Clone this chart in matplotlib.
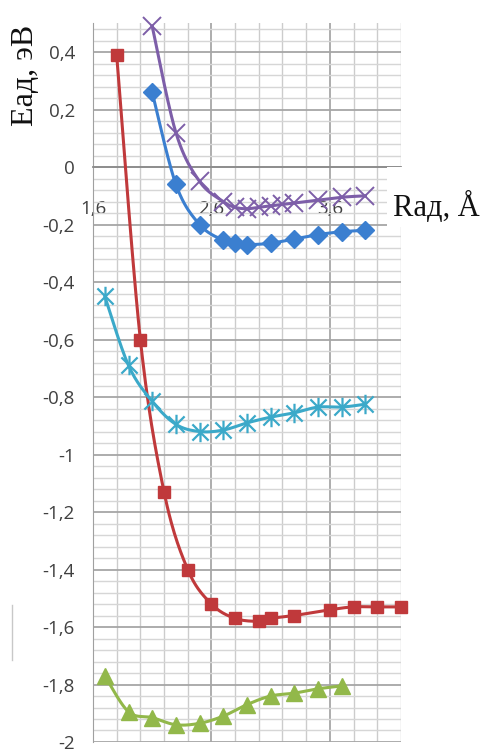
import numpy as np
import matplotlib
matplotlib.use("Agg")
import matplotlib.pyplot as plt
from matplotlib.path import Path
from matplotlib.lines import Line2D
from matplotlib.patches import Rectangle

# ---- data ----
x_purple = [2.1, 2.3, 2.5, 2.7, 2.8, 2.9, 3.0, 3.1, 3.2, 3.3, 3.5, 3.7, 3.9]
y_purple = [0.49, 0.12, -0.05, -0.12, -0.14, -0.145, -0.14, -0.135, -0.13, -0.125, -0.115, -0.105, -0.10]

x_blue = [2.1, 2.3, 2.5, 2.7, 2.8, 2.9, 3.1, 3.3, 3.5, 3.7, 3.9]
y_blue = [0.26, -0.06, -0.20, -0.255, -0.265, -0.27, -0.265, -0.25, -0.235, -0.225, -0.22]

x_red = [1.8, 2.0, 2.2, 2.4, 2.6, 2.8, 3.0, 3.1, 3.3, 3.6, 3.8, 4.0, 4.2]
y_red = [0.39, -0.60, -1.13, -1.40, -1.52, -1.57, -1.58, -1.57, -1.56, -1.54, -1.53, -1.53, -1.53]

x_cyan = [1.7, 1.9, 2.1, 2.3, 2.5, 2.7, 2.9, 3.1, 3.3, 3.5, 3.7, 3.9]
y_cyan = [-0.45, -0.69, -0.815, -0.895, -0.92, -0.915, -0.89, -0.87, -0.855, -0.835, -0.835, -0.825]

x_green = [1.7, 1.9, 2.1, 2.3, 2.5, 2.7, 2.9, 3.1, 3.3, 3.5, 3.7]
y_green = [-1.77, -1.895, -1.915, -1.94, -1.935, -1.91, -1.87, -1.84, -1.83, -1.815, -1.805]

xtick_vals = [1.6, 2.6, 3.6]
xtick_labels = ["1,6", "2,6", "3,6"]
ytick_vals = [0.4, 0.2, 0.0, -0.2, -0.4, -0.6, -0.8, -1.0, -1.2, -1.4, -1.6, -1.8, -2.0]
ytick_labels = ["0,4", "0,2", "0", "-0,2", "-0,4", "-0,6", "-0,8", "-1", "-1,2", "-1,4", "-1,6", "-1,8", "-2"]

plt.rcParams["font.family"] = ["Open Sans", "DejaVu Sans"]


def smooth(x, y, n=24):
    # excel-like smoothed line: cubic bezier through the points
    x = np.asarray(x, float)
    y = np.asarray(y, float)
    px, py = [], []
    for i in range(len(x) - 1):
        i0 = max(i - 1, 0)
        i3 = min(i + 2, len(x) - 1)
        c1x = x[i] + (x[i + 1] - x[i0]) / 6
        c1y = y[i] + (y[i + 1] - y[i0]) / 6
        c2x = x[i + 1] - (x[i3] - x[i]) / 6
        c2y = y[i + 1] - (y[i3] - y[i]) / 6
        t = np.linspace(0, 1, n)
        a, b, c, d = (1 - t) ** 3, 3 * t * (1 - t) ** 2, 3 * t ** 2 * (1 - t), t ** 3
        px.extend(a * x[i] + b * c1x + c * c2x + d * x[i + 1])
        py.extend(a * y[i] + b * c1y + c * c2y + d * y[i + 1])
    return px, py


# excel "star" marker: an x with a vertical bar
star = Path([(-1, -1), (1, 1), (-1, 1), (1, -1), (0, -1.2), (0, 1.2)],
            [Path.MOVETO, Path.LINETO, Path.MOVETO, Path.LINETO, Path.MOVETO, Path.LINETO])

fig = plt.figure(figsize=(4.83, 7.52), dpi=100)
ax = fig.add_axes([0.1925, 0.0133, 0.6375, 0.9557])

for s in ["top", "right"]:
    ax.spines[s].set_visible(False)
ax.spines["left"].set_color("#a0a0a0")
ax.spines["bottom"].set_position(("data", 0))
ax.spines["bottom"].set_color("#8c8c8c")
ax.spines["bottom"].set_linewidth(1.3)

ax.set_xlim(1.6, 4.2)
ax.set_ylim(-2.0, 0.5)

# grid
ax.set_xticks(xtick_vals)
ax.set_xticklabels(xtick_labels)
ax.set_xticks(np.arange(1.6, 4.21, 0.2), minor=True)
ax.set_yticks(ytick_vals)
ax.set_yticklabels(ytick_labels)
ax.set_yticks(np.arange(-2.0, 0.49, 0.04), minor=True)
ax.grid(which="major", axis="y", color="#a6a6a6", lw=1.3)
ax.grid(which="minor", axis="y", color="#d6d6d6", lw=1.0)
ax.grid(which="major", axis="x", color="#a0a0a0", lw=1.2)
ax.grid(which="minor", axis="x", color="#cccccc", lw=1.0)
ax.set_axisbelow(True)

ax.tick_params(which="both", length=0, labelsize=13.5, labelcolor="#404040")
ax.tick_params(axis="x", pad=24)
ax.tick_params(axis="y", pad=13)

# series
series = [
    (x_green, y_green, "#92b84a", dict(marker="^", ms=12)),
    (x_red, y_red, "#c0393b", dict(marker="s", ms=9)),
    (x_cyan, y_cyan, "#3ba9c9", dict(marker=star, ms=14, mew=1.6)),
    (x_blue, y_blue, "#3b7fd0", dict(marker="D", ms=9)),
    (x_purple, y_purple, "#7d5ea8", dict(marker="x", ms=13, mew=1.4)),
]
for xs, ys, col, mk in series:
    sx, sy = smooth(xs, ys)
    ax.plot(sx, sy, color=col, lw=2.2, clip_on=False, zorder=3)
    ax.plot(xs, ys, ls="none", color=col, mec=col, mfc=col, clip_on=False, zorder=4, **mk)

# white box behind the x-axis title
fig.add_artist(Rectangle((0.801, 0.698), 0.199, 0.08, transform=fig.transFigure,
                         facecolor="white", edgecolor="none", zorder=5))
fig.text(0.813, 0.725, "Rад, Å", fontfamily="Liberation Serif", fontsize=22,
         va="center", ha="left", color="#111111", zorder=6)

fig.text(0.052, 0.90, "Еад, эВ", fontfamily="Liberation Serif", fontsize=23,
         rotation=90, va="center", ha="center", color="#111111")

# faint stray mark at the left edge
fig.add_artist(Line2D([0.025, 0.025], [1 - 660 / 752, 1 - 605 / 752],
                      transform=fig.transFigure, color="#c8c8c8", lw=1))

fig.savefig("out.png", dpi=100)
